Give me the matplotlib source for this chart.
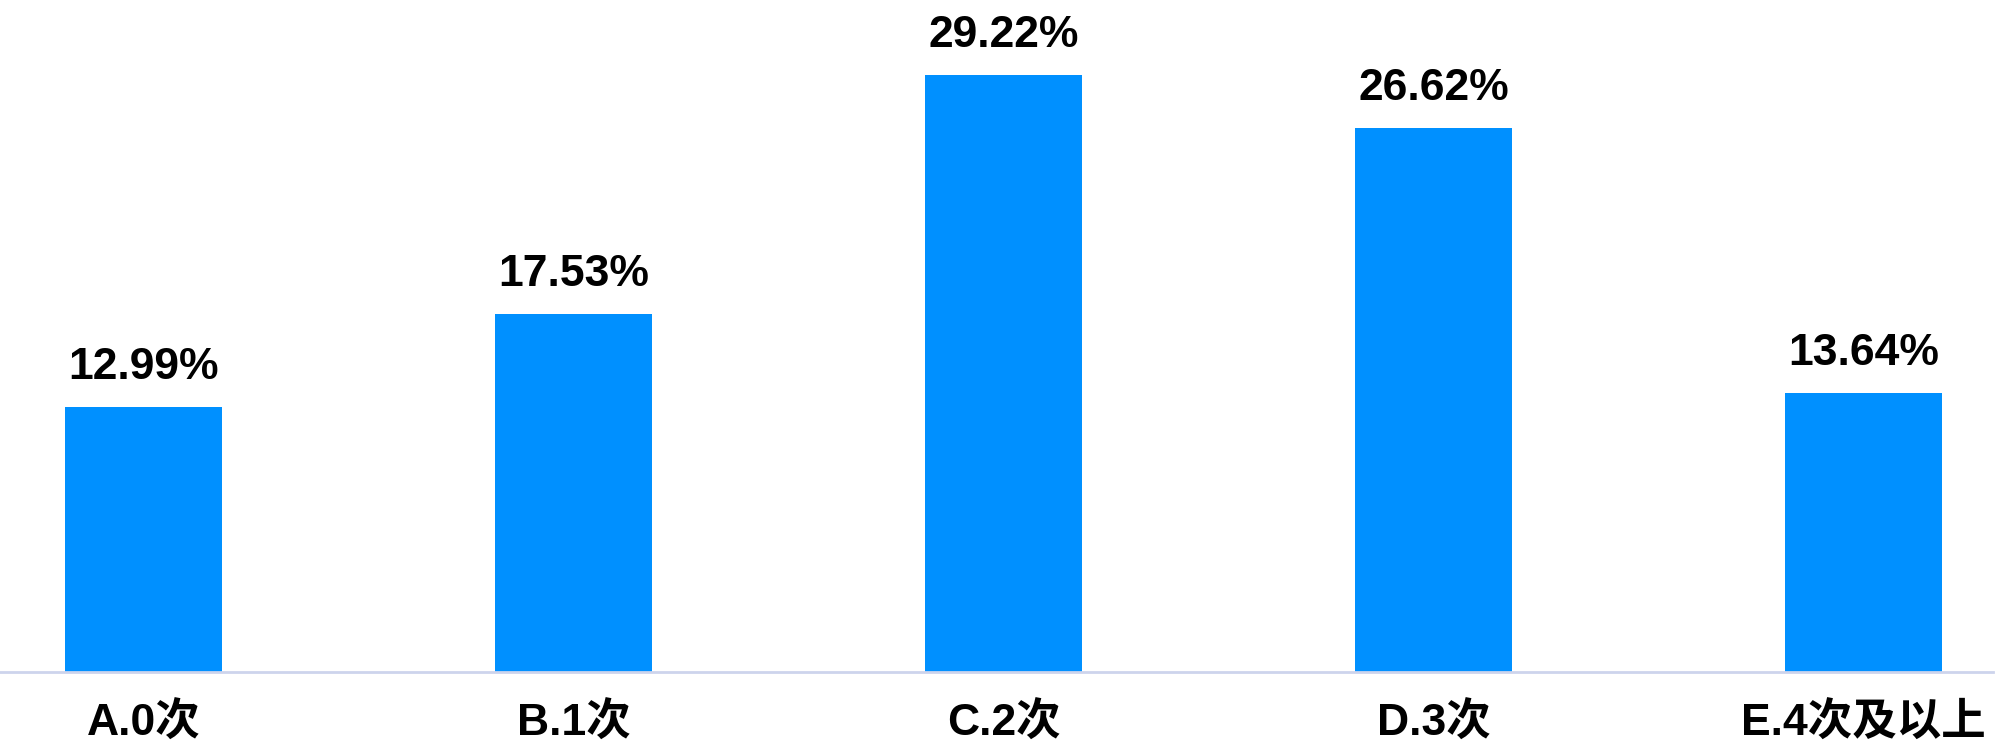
import matplotlib
matplotlib.use("Agg")
from matplotlib import pyplot as plt

plt.rcParams["font.family"] = ["Liberation Sans", "Noto Sans CJK SC"]
plt.rcParams["font.weight"] = "bold"

categories = ["A.0次", "B.1次", "C.2次", "D.3次", "E.4次及以上"]
values = [12.99, 17.53, 29.22, 26.62, 13.64]
labels = ["12.99%", "17.53%", "29.22%", "26.62%", "13.64%"]

fig = plt.figure(figsize=(19.99, 7.52), dpi=100)
ax = fig.add_axes([0, 1 - 672 / 752, 1, 672 / 752])

x = range(len(categories))
bars = ax.bar(x, values, width=0.365, color="#0090ff", zorder=2)

for rect, lab in zip(bars, labels):
    ax.annotate(lab, (rect.get_x() + rect.get_width() / 2, rect.get_height()),
                xytext=(0, 19), textcoords="offset pixels",
                ha="center", va="bottom", fontsize=32, fontweight="bold")

ax.set_xlim(-0.334, 4.315)
ax.set_ylim(0, 32.9)
ax.set_xticks(list(x))
ax.set_xticklabels(categories, fontsize=32, fontweight="bold")
ax.tick_params(axis="x", length=0, pad=22)
ax.set_yticks([])
for s in ["top", "left", "right"]:
    ax.spines[s].set_visible(False)
ax.spines["bottom"].set_color("#cdd4ec")
ax.spines["bottom"].set_linewidth(2)
ax.spines["bottom"].set_bounds(-0.334, 4.315 - 6 / 430)

fig.savefig("out.png", dpi=100)
